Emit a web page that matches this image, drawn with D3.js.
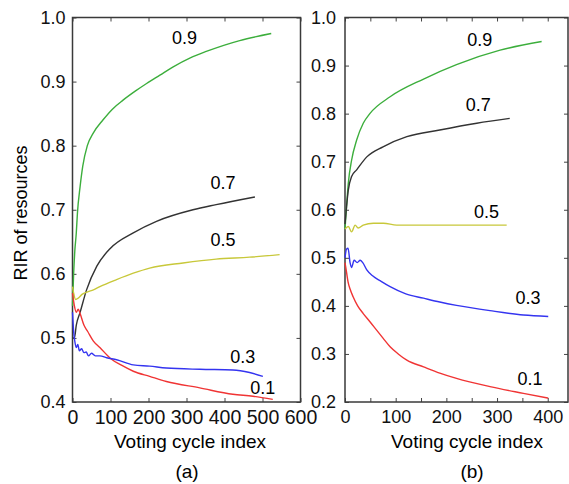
<!DOCTYPE html>
<html>
<head>
<meta charset="utf-8">
<script src="https://cdn.jsdelivr.net/npm/d3@7"></script>
<style>
  body { margin: 0; background: #fff; }
  svg { display: block; font-family: "Liberation Sans", Arial, sans-serif; }
  .tick text { font-size: 18px; fill: #111; }
  .tick line { stroke: #444; }
</style>
</head>
<body>
<div id="chart"></div>
<script>
// panel (a): voting cycles 0-600, RIR 0.4-1.0
const aGreen = [[0,0.55],[3,0.6],[6,0.635],[10,0.664],[13,0.695],[20,0.736],[27,0.768],[39,0.80],[55,0.82],[80,0.84],[105,0.857],[133,0.871],[165,0.885],[195,0.897],[230,0.91],[265,0.923],[310,0.937],[352,0.947],[400,0.957],[440,0.964],[523,0.975]];
const aBlack = [[0,0.5],[5,0.5],[10,0.52],[20,0.54],[37,0.575],[64,0.612],[100,0.64],[160,0.664],[221,0.682],[317,0.70],[378,0.708],[480,0.72]];
const aYellow = [[0,0.58],[3,0.57],[8,0.56],[15,0.562],[25,0.568],[40,0.572],[55,0.575],[72,0.58],[116,0.591],[160,0.601],[203,0.609],[291,0.617],[378,0.623],[466,0.626],[545,0.630]];
const aBlue = [[0,0.54],[3,0.51],[6,0.495],[10,0.485],[14,0.49],[18,0.48],[24,0.483],[30,0.477],[36,0.478],[42,0.472],[50,0.476],[60,0.472],[72,0.472],[90,0.469],[116,0.466],[160,0.458],[203,0.456],[247,0.453],[335,0.451],[422,0.45],[466,0.446],[501,0.44]];
const aRed = [[0,0.57],[5,0.55],[10,0.54],[15,0.545],[20,0.538],[30,0.52],[40,0.51],[55,0.495],[72,0.485],[100,0.468],[130,0.457],[160,0.448],[203,0.44],[247,0.432],[335,0.422],[422,0.412],[475,0.409],[527,0.404]];

// panel (b): voting cycles 0-440, RIR 0.2-1.0
const bGreen = [[0,0.56],[3,0.606],[6.5,0.655],[13,0.703],[23,0.745],[36,0.78],[49,0.80],[89,0.835],[155,0.872],[220,0.902],[306,0.932],[388,0.95]];
const bBlack = [[0,0.57],[3,0.606],[6.5,0.641],[13,0.669],[23,0.683],[43,0.71],[75,0.731],[122,0.752],[187,0.766],[260,0.78],[325,0.79]];
const bYellow = [[0,0.56],[6.5,0.565],[13,0.554],[20,0.568],[26,0.562],[36,0.568],[56,0.572],[76,0.572],[102,0.568],[135,0.568],[187,0.568],[250,0.568],[319,0.568]];
const bBlue = [[0,0.5],[3,0.518],[6,0.52],[10,0.49],[13,0.48],[18,0.495],[24,0.49],[30,0.495],[35,0.49],[43,0.475],[55,0.462],[70,0.452],[89,0.44],[120,0.425],[155,0.416],[187,0.408],[220,0.401],[286,0.39],[352,0.381],[401,0.378]];
const bRed = [[0,0.49],[3,0.47],[6,0.45],[10,0.435],[16,0.419],[25,0.4],[36,0.384],[50,0.366],[62,0.35],[75,0.333],[89,0.315],[105,0.3],[122,0.287],[155,0.273],[187,0.26],[220,0.249],[286,0.232],[352,0.218],[401,0.208]];

// curve labels: [text, x, y]
const aLabels = [["0.9",295,0.968],["0.7",396,0.742],["0.5",396,0.653],["0.3",448,0.471],["0.1",501,0.422]];
const bLabels = [["0.9",266,0.953],["0.7",263,0.818],["0.5",279,0.596],["0.3",361,0.416],["0.1",365,0.249]];

const colors = { green: "#3cae3c", black: "#333333", yellow: "#c8c83a", blue: "#3434f0", red: "#f03434" };

const svg = d3.select("#chart").append("svg")
    .attr("width", 569)
    .attr("height", 484);

function drawPanel(p) {
    const x = d3.scaleLinear().domain(p.xDomain).range([p.left, p.right]);
    const y = d3.scaleLinear().domain(p.yDomain).range([p.bottom, p.top]);
    const g = svg.append("g");

    const yTicks = d3.range(p.yDomain[0], p.yDomain[1] + 0.001, 0.1).map(v => +v.toFixed(1));

    // inward ticks on all four sides
    const xAxis = g.append("g").attr("transform", `translate(0,${p.bottom})`)
        .call(d3.axisBottom(x).tickValues(p.xTicks).tickSize(-4).tickPadding(8)
            .tickFormat(d => d % 100 === 0 ? d : ""));
    xAxis.selectAll("text").style("font-size", p.xTickFont);
    g.append("g").attr("transform", `translate(0,${p.top})`)
        .call(d3.axisTop(x).tickValues(p.xTicks).tickSize(-4).tickFormat(""));
    g.append("g").attr("transform", `translate(${p.left},0)`)
        .call(d3.axisLeft(y).tickValues(yTicks).tickSize(-4).tickPadding(p.yPad).tickFormat(d3.format(".1f")));
    g.append("g").attr("transform", `translate(${p.right},0)`)
        .call(d3.axisRight(y).tickValues(yTicks).tickSize(-4).tickFormat(""));
    g.selectAll(".domain").remove();

    g.append("rect")
        .attr("x", p.left).attr("y", p.top)
        .attr("width", p.right - p.left).attr("height", p.bottom - p.top)
        .attr("fill", "none").attr("stroke", "#3a3a3a").attr("stroke-width", 1.5);

    const line = d3.line().x(d => x(d[0])).y(d => y(d[1])).curve(d3.curveMonotoneX);
    p.series.forEach(s => {
        g.append("path")
            .datum(s.data)
            .attr("d", line)
            .attr("fill", "none")
            .attr("stroke", s.color)
            .attr("stroke-width", 1.4);
    });

    g.selectAll(".curve-label")
        .data(p.labels)
        .enter()
        .append("text")
        .attr("class", "curve-label")
        .attr("x", d => x(d[1]))
        .attr("y", d => y(d[2]))
        .attr("dy", "0.35em")
        .attr("text-anchor", "middle")
        .style("font-size", "18px")
        .text(d => d[0]);

    g.append("text")
        .attr("x", p.xTitleX).attr("y", 448)
        .attr("text-anchor", "middle")
        .style("font-size", "19px")
        .text("Voting cycle index");

    g.append("text")
        .attr("x", p.captionX).attr("y", 478)
        .attr("text-anchor", "middle")
        .style("font-size", "19px")
        .text(p.caption);
}

drawPanel({
    xDomain: [0, 600], yDomain: [0.4, 1.0],
    left: 72.5, right: 300.5, top: 17.5, bottom: 402,
    xTicks: d3.range(0, 601, 100), yPad: 7, xTickFont: "19.5px",
    series: [
        { data: aGreen, color: colors.green },
        { data: aBlack, color: colors.black },
        { data: aYellow, color: colors.yellow },
        { data: aRed, color: colors.red },
        { data: aBlue, color: colors.blue }
    ],
    labels: aLabels, xTitleX: 190, captionX: 187, caption: "(a)"
});

drawPanel({
    xDomain: [0, 440], yDomain: [0.2, 1.0],
    left: 345, right: 568, top: 17.5, bottom: 402,
    xTicks: d3.range(0, 441, 50), yPad: 9, xTickFont: "18px",
    series: [
        { data: bGreen, color: colors.green },
        { data: bBlack, color: colors.black },
        { data: bYellow, color: colors.yellow },
        { data: bRed, color: colors.red },
        { data: bBlue, color: colors.blue }
    ],
    labels: bLabels, xTitleX: 467, captionX: 472, caption: "(b)"
});

// shared y axis title
svg.append("text")
    .attr("transform", "translate(27,213) rotate(-90)")
    .attr("text-anchor", "middle")
    .style("font-size", "18px")
    .text("RIR of resources");
</script>
</body>
</html>
